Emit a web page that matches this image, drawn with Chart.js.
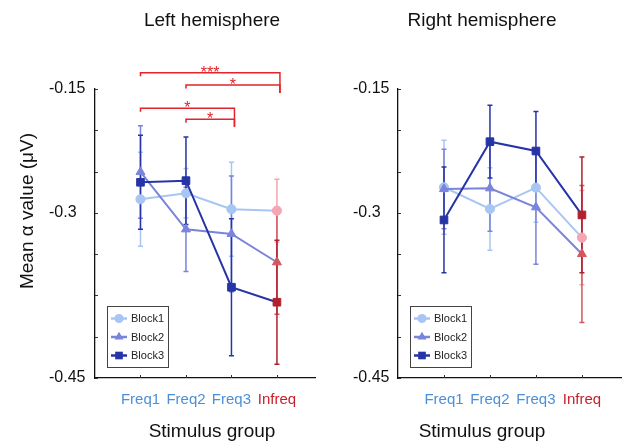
<!DOCTYPE html>
<html>
<head>
<meta charset="utf-8">
<script src="https://cdn.jsdelivr.net/npm/chart.js@4.4.1/dist/chart.umd.min.js"></script>
<style>
  html, body { margin: 0; padding: 0; background: #fff; }
  #wrap { position: relative; width: 630px; height: 445px; overflow: hidden; }
  #leftBox { position: absolute; left: 0; top: 0; width: 322px; height: 445px; }
  #rightBox { position: absolute; left: 322px; top: 0; width: 308px; height: 445px; }
</style>
</head>
<body>
<div id="wrap">
  <div id="leftBox"><canvas id="leftChart" width="322" height="445"></canvas></div>
  <div id="rightBox"><canvas id="rightChart" width="308" height="445"></canvas></div>
</div>
<script>
const groups = ['Freq1', 'Freq2', 'Freq3', 'Infreq'];
const groupColors = ['#4a90d9', '#4a90d9', '#4a90d9', '#c8202b'];
const blocks = ['Block1', 'Block2', 'Block3'];

// left hemisphere means and error bar half-lengths
const leftBlock1 = [-0.2835, -0.2763, -0.2956, -0.2973];
const leftBlock2 = [-0.2505, -0.3199, -0.3255, -0.3598];
const leftBlock3 = [-0.2630, -0.2610, -0.3901, -0.4082];
const leftErr1 = [0.057, 0.030, 0.057, 0.038];
const leftErr2 = [0.056, 0.051, 0.070, 0.063];
const leftErr3 = [0.057, 0.053, 0.083, 0.075];

// right hemisphere
const rightBlock1 = [-0.2690, -0.2953, -0.2695, -0.3300];
const rightBlock2 = [-0.2711, -0.2702, -0.2932, -0.3498];
const rightBlock3 = [-0.3086, -0.2138, -0.2251, -0.3025];
const rightErr1 = [0.057, 0.050, 0.042, 0.057];
const rightErr2 = [0.048, 0.052, 0.069, 0.083];
const rightErr3 = [0.064, 0.044, 0.048, 0.070];

// y axis labels (the figure labels its bottom end -0.45)
const yTickValues = [-0.15, -0.3, -0.5];
const yTickLabels = ['-0.15', '-0.3', '-0.45'];

// significance brackets (left hemisphere)
const sigFrom = [1, 2, 1, 2];
const sigTo = [4, 4, 3, 3];
const sigText = ['***', '*', '*', '*'];
const sigLevel = [-0.1303, -0.1452, -0.1734, -0.1867];
const sigDrop = [-0.1548, -0.1548, -0.1956, -0.1956];

const blueCols = ['#a8c6f4', '#7a84db', '#2634a6'];
const redCols = ['#f4a6b4', '#d4575e', '#b0202e'];
const shapes = ['circle', 'triangle', 'rect'];
const radii = [4.6, 5.2, 5.4];
const FONT = 'Arial, "Liberation Sans", sans-serif';

function markerCols(b) {
  return groups.map((g, i) => (i === groups.length - 1 ? redCols[b] : blueCols[b]));
}

function makeDatasets(series, errs) {
  return series.map((vals, b) => ({
    label: blocks[b],
    data: vals.map((v, i) => ({ x: i + 1, y: v })),
    err: errs[b],
    borderColor: blueCols[b],
    borderWidth: 2,
    pointStyle: shapes[b],
    pointRadius: radii[b],
    pointBackgroundColor: markerCols(b),
    pointBorderColor: markerCols(b),
    pointBorderWidth: 1,
    fill: false,
    tension: 0,
    order: 2 - b
  }));
}

function drawMarker(ctx, shape, r, x, y) {
  ctx.beginPath();
  if (shape === 'circle') {
    ctx.arc(x, y, r, 0, Math.PI * 2);
  } else if (shape === 'triangle') {
    ctx.moveTo(x, y - r);
    ctx.lineTo(x + r * 0.866, y + r * 0.5);
    ctx.lineTo(x - r * 0.866, y + r * 0.5);
    ctx.closePath();
  } else {
    const s = r * Math.SQRT1_2;
    ctx.rect(x - s, y - s, 2 * s, 2 * s);
  }
  ctx.fill();
}

function extrasPlugin(cfg) {
  return {
    id: 'extras',
    beforeDatasetsDraw(chart) {
      const ctx = chart.ctx, ys = chart.scales.y;
      ctx.save();
      ctx.lineWidth = 1.5;
      chart.data.datasets.forEach((ds, b) => {
        const meta = chart.getDatasetMeta(b);
        ds.data.forEach((p, i) => {
          const x = meta.data[i].x;
          const y1 = ys.getPixelForValue(p.y + ds.err[i]);
          const y2 = ys.getPixelForValue(p.y - ds.err[i]);
          ctx.strokeStyle = ds.pointBackgroundColor[i];
          ctx.beginPath();
          ctx.moveTo(x, y1); ctx.lineTo(x, y2);
          ctx.moveTo(x - 2.5, y1); ctx.lineTo(x + 2.5, y1);
          ctx.moveTo(x - 2.5, y2); ctx.lineTo(x + 2.5, y2);
          ctx.stroke();
        });
      });
      ctx.restore();
    },
    afterDraw(chart) {
      const ctx = chart.ctx, area = chart.chartArea;
      const xs = chart.scales.x, ys = chart.scales.y;
      ctx.save();
      // inward tick marks
      ctx.strokeStyle = '#333';
      ctx.lineWidth = 1;
      ctx.beginPath();
      ys.ticks.forEach(t => {
        const y = Math.round(ys.getPixelForValue(t.value)) + 0.5;
        ctx.moveTo(area.left, y); ctx.lineTo(area.left + 3, y);
      });
      xs.ticks.forEach(t => {
        const x = Math.round(xs.getPixelForValue(t.value)) + 0.5;
        ctx.moveTo(x, area.bottom); ctx.lineTo(x, area.bottom - 3);
      });
      ctx.stroke();

      // legend box
      const bx = area.left + 12, bw = 61, bh = 61, by = area.bottom - 11 - bh;
      ctx.fillStyle = '#fff';
      ctx.fillRect(bx, by, bw, bh);
      ctx.strokeStyle = '#444';
      ctx.lineWidth = 1;
      ctx.strokeRect(Math.round(bx) + 0.5, Math.round(by) + 0.5, bw, bh);
      ctx.font = '11px ' + FONT;
      ctx.textBaseline = 'middle';
      ctx.textAlign = 'left';
      chart.data.datasets.forEach((ds, b) => {
        const ry = by + 12.5 + b * 18.5;
        ctx.strokeStyle = ds.borderColor;
        ctx.fillStyle = ds.borderColor;
        ctx.lineWidth = 2.5;
        ctx.beginPath();
        ctx.moveTo(bx + 4, ry); ctx.lineTo(bx + 20, ry);
        ctx.stroke();
        drawMarker(ctx, ds.pointStyle, ds.pointRadius, bx + 12, ry);
        ctx.fillStyle = '#222';
        ctx.fillText(ds.label, bx + 24, ry + 0.5);
      });

      // titles
      ctx.fillStyle = '#111';
      ctx.font = '19px ' + FONT;
      ctx.textAlign = 'center';
      ctx.textBaseline = 'middle';
      ctx.fillText(cfg.title, cfg.titleX, 21);
      ctx.fillText('Stimulus group', cfg.titleX, 432);
      if (cfg.yTitle) {
        ctx.save();
        ctx.translate(28, 211);
        ctx.rotate(-Math.PI / 2);
        ctx.fillText(cfg.yTitle, 0, 0);
        ctx.restore();
      }

      // significance brackets
      if (cfg.brackets) {
        ctx.strokeStyle = '#e4232a';
        ctx.fillStyle = '#e4232a';
        ctx.lineWidth = 1.5;
        ctx.font = '16px ' + FONT;
        ctx.textBaseline = 'alphabetic';
        sigFrom.forEach((f, k) => {
          const x1 = xs.getPixelForValue(f), x2 = xs.getPixelForValue(sigTo[k]) + 3;
          const y = ys.getPixelForValue(sigLevel[k]);
          const yd = ys.getPixelForValue(sigDrop[k]);
          ctx.beginPath();
          ctx.moveTo(x1, y + 3.5); ctx.lineTo(x1, y);
          ctx.lineTo(x2, y); ctx.lineTo(x2, yd);
          ctx.stroke();
          ctx.fillText(sigText[k], (x1 + x2) / 2, y + 5);
        });
      }
      ctx.restore();
    }
  };
}

function makeChart(id, series, errs, cfg) {
  return new Chart(document.getElementById(id), {
    type: 'line',
    data: { datasets: makeDatasets(series, errs) },
    options: {
      responsive: false,
      animation: false,
      events: [],
      layout: { padding: { left: cfg.padLeft, right: cfg.padRight, top: 89, bottom: 0 } },
      plugins: { legend: { display: false }, tooltip: { enabled: false }, title: { display: false } },
      scales: {
        x: {
          type: 'linear',
          min: 0,
          max: 4.85,
          afterBuildTicks: s => { s.ticks = groups.map((g, i) => ({ value: i + 1 })); },
          afterFit: s => { s.height = 67; },
          grid: { display: true, drawOnChartArea: false, drawTicks: false },
          border: { display: true, color: '#111', width: 1.3 },
          ticks: {
            autoSkip: false,
            maxRotation: 0,
            padding: 13,
            font: { family: FONT, size: 15 },
            color: c => groupColors[c.index] || '#4a90d9',
            callback: v => groups[v - 1] || ''
          }
        },
        y: {
          min: -0.5,
          max: -0.15,
          afterFit: s => { s.width = cfg.yWidth; },
          grid: { display: true, drawOnChartArea: false, drawTicks: false },
          border: { display: true, color: '#111', width: 1.3 },
          ticks: {
            stepSize: 0.05,
            autoSkip: false,
            crossAlign: 'far',
            color: '#111',
            font: { family: FONT, size: 16 },
            callback: v => {
              const k = yTickValues.findIndex(t => Math.abs(t - v) < 1e-6);
              return k >= 0 ? yTickLabels[k] : '';
            }
          }
        }
      }
    },
    plugins: [extrasPlugin(cfg)]
  });
}

makeChart('leftChart', [leftBlock1, leftBlock2, leftBlock3], [leftErr1, leftErr2, leftErr3], {
  padLeft: 49, padRight: 4, yWidth: 46,
  title: 'Left hemisphere', titleX: 212, yTitle: 'Mean \u03b1 value (\u03bcV)', brackets: true
});
makeChart('rightChart', [rightBlock1, rightBlock2, rightBlock3], [rightErr1, rightErr2, rightErr3], {
  padLeft: 31, padRight: 9, yWidth: 45,
  title: 'Right hemisphere', titleX: 160, yTitle: null, brackets: false
});
</script>
</body>
</html>
